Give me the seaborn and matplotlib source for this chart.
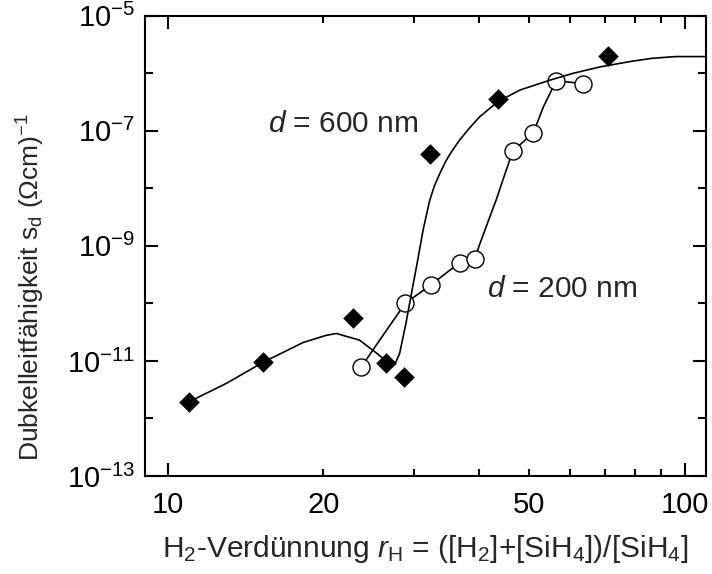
import matplotlib
matplotlib.use("Agg")
import matplotlib.pyplot as plt
import matplotlib.ticker as mticker
import seaborn as sns

# Messpunkte d = 600 nm (gefuellte Rauten)
rh_600 = [11.0, 15.3, 22.8, 26.4, 28.6, 32.2, 43.5, 71.1]
sd_600 = [1.95e-12, 9.5e-12, 5.5e-11, 9.1e-12, 5.2e-12, 4.0e-8, 3.6e-7, 2.0e-6]

# Messpunkte d = 200 nm (offene Kreise)
rh_200 = [23.7, 28.8, 32.3, 36.7, 39.3, 46.5, 51.0, 56.5, 63.5]
sd_200 = [7.9e-12, 1.0e-10, 2.1e-10, 5.1e-10, 5.9e-10, 4.4e-8, 9.3e-8, 7.4e-7, 6.5e-7]

# Leitlinien
fit_x_600 = [11.0, 13.0, 15.3, 18.3, 20.3, 21.2, 23.5, 25.4, 26.7, 27.5, 28.1, 28.9,
             29.7, 30.3, 31.2, 32.1, 32.8, 33.6, 34.4, 35.2, 36.7, 38.3, 40.1, 43.5,
             48.0, 54.9, 60.9, 68.6, 79.1, 86.6, 96.0, 110.0]
fit_y_600 = [1.95e-12, 4.1e-12, 9.5e-12, 2.1e-11, 2.8e-11, 3.0e-11, 2.3e-11, 1.35e-11,
             9.3e-12, 8.7e-12, 1.35e-11, 4.5e-11, 1.7e-10, 4.4e-10, 1.9e-9, 6.0e-9,
             1.1e-8, 1.8e-8, 2.8e-8, 4.0e-8, 6.9e-8, 1.1e-7, 1.74e-7, 3.2e-7, 5.1e-7,
             7.6e-7, 1.0e-6, 1.29e-6, 1.62e-6, 1.82e-6, 1.95e-6, 1.95e-6]

fit_x_200 = [23.7, 26.1, 28.8, 32.3, 36.7, 39.3, 40.0, 42.0, 43.2, 45.2, 46.5, 51.0,
             53.3, 55.3, 56.5, 60.9, 63.5]
fit_y_200 = [7.9e-12, 2.8e-11, 1.0e-10, 2.1e-10, 5.1e-10, 5.9e-10, 9.8e-10, 3.2e-9,
             6.3e-9, 2.1e-8, 4.4e-8, 9.3e-8, 2.6e-7, 5.1e-7, 7.4e-7, 6.9e-7, 6.5e-7]

x_major = [10, 100]
x_minor = [20, 30, 40, 50, 60, 70, 80, 90]
x_minor_labels = ['20', '', '', '50', '', '', '', '']
y_major = [1e-13, 1e-11, 1e-9, 1e-7, 1e-5]
y_minor = [1e-12, 1e-10, 1e-8, 1e-6]
y_labels = [r'$10^{-13}$', r'$10^{-11}$', r'$10^{-9}$', r'$10^{-7}$', r'$10^{-5}$']

sns.set_style('ticks')
plt.rcParams['font.family'] = ['Liberation Sans', 'DejaVu Sans']
plt.rcParams['mathtext.fontset'] = 'custom'
plt.rcParams['mathtext.rm'] = 'Liberation Sans'
plt.rcParams['mathtext.it'] = 'Liberation Sans:italic'
plt.rcParams['mathtext.bf'] = 'Liberation Sans:bold'
plt.rcParams['axes.unicode_minus'] = False

fig = plt.figure(figsize=(7.12, 5.74), dpi=100)
ax = fig.add_axes([0.2037, 0.1707, 0.7879, 0.8019])
ax.set_xscale('log')
ax.set_yscale('log')

sns.lineplot(x=fit_x_200, y=fit_y_200, sort=False, estimator=None, color='black',
             linewidth=1.2, ax=ax, zorder=1)
sns.scatterplot(x=rh_200, y=sd_200, marker='o', s=150, color='white',
                edgecolor='black', linewidth=1.0, ax=ax, zorder=2)
sns.lineplot(x=fit_x_600, y=fit_y_600, sort=False, estimator=None, color='black',
             linewidth=1.2, ax=ax, zorder=3)
sns.scatterplot(x=rh_600, y=sd_600, marker='D', s=110, color='black',
                edgecolor='black', linewidth=0, ax=ax, zorder=4)

ax.set_xlim(9.04, 110)
ax.set_ylim(1e-13, 1e-5)

ax.xaxis.set_major_locator(mticker.FixedLocator(x_major))
ax.xaxis.set_major_formatter(mticker.FixedFormatter(['10', '100']))
ax.xaxis.set_minor_locator(mticker.FixedLocator(x_minor))
ax.xaxis.set_minor_formatter(mticker.FixedFormatter(x_minor_labels))
ax.yaxis.set_major_locator(mticker.FixedLocator(y_major))
ax.yaxis.set_major_formatter(mticker.FixedFormatter(y_labels))
ax.yaxis.set_minor_locator(mticker.FixedLocator(y_minor))
ax.yaxis.set_minor_formatter(mticker.NullFormatter())

ax.tick_params(which='both', direction='in', top=True, right=True, width=1.5,
               labelsize=21, color='black', labelcolor='black')
ax.tick_params(which='major', length=9.5)
ax.tick_params(axis='x', which='minor', length=5)
ax.tick_params(axis='y', which='minor', length=6)
ax.tick_params(axis='x', which='both', pad=11)
ax.tick_params(axis='y', which='both', pad=7)
for sp in ax.spines.values():
    sp.set_linewidth(1.5)
    sp.set_color('black')

ax.text(15.6, 1.3e-7, r'$d$ = 600 nm', fontsize=21.5, ha='left', va='center')
ax.text(41.4, 1.8e-10, r'$d$ = 200 nm', fontsize=21.5, ha='left', va='center')

ax.set_xlabel(r'H$_2$-Verdünnung $r_\mathrm{H}$ = ([H$_2$]+[SiH$_4$])/[SiH$_4$]',
              fontsize=21.5, labelpad=10)
ax.set_ylabel(r'Dubkelleitfähigkeit s$_\mathrm{d}$ (Ωcm)$^{-1}$', fontsize=19)
ax.yaxis.set_label_coords(-0.175, 0.41)

fig.savefig('out.png', dpi=100)
